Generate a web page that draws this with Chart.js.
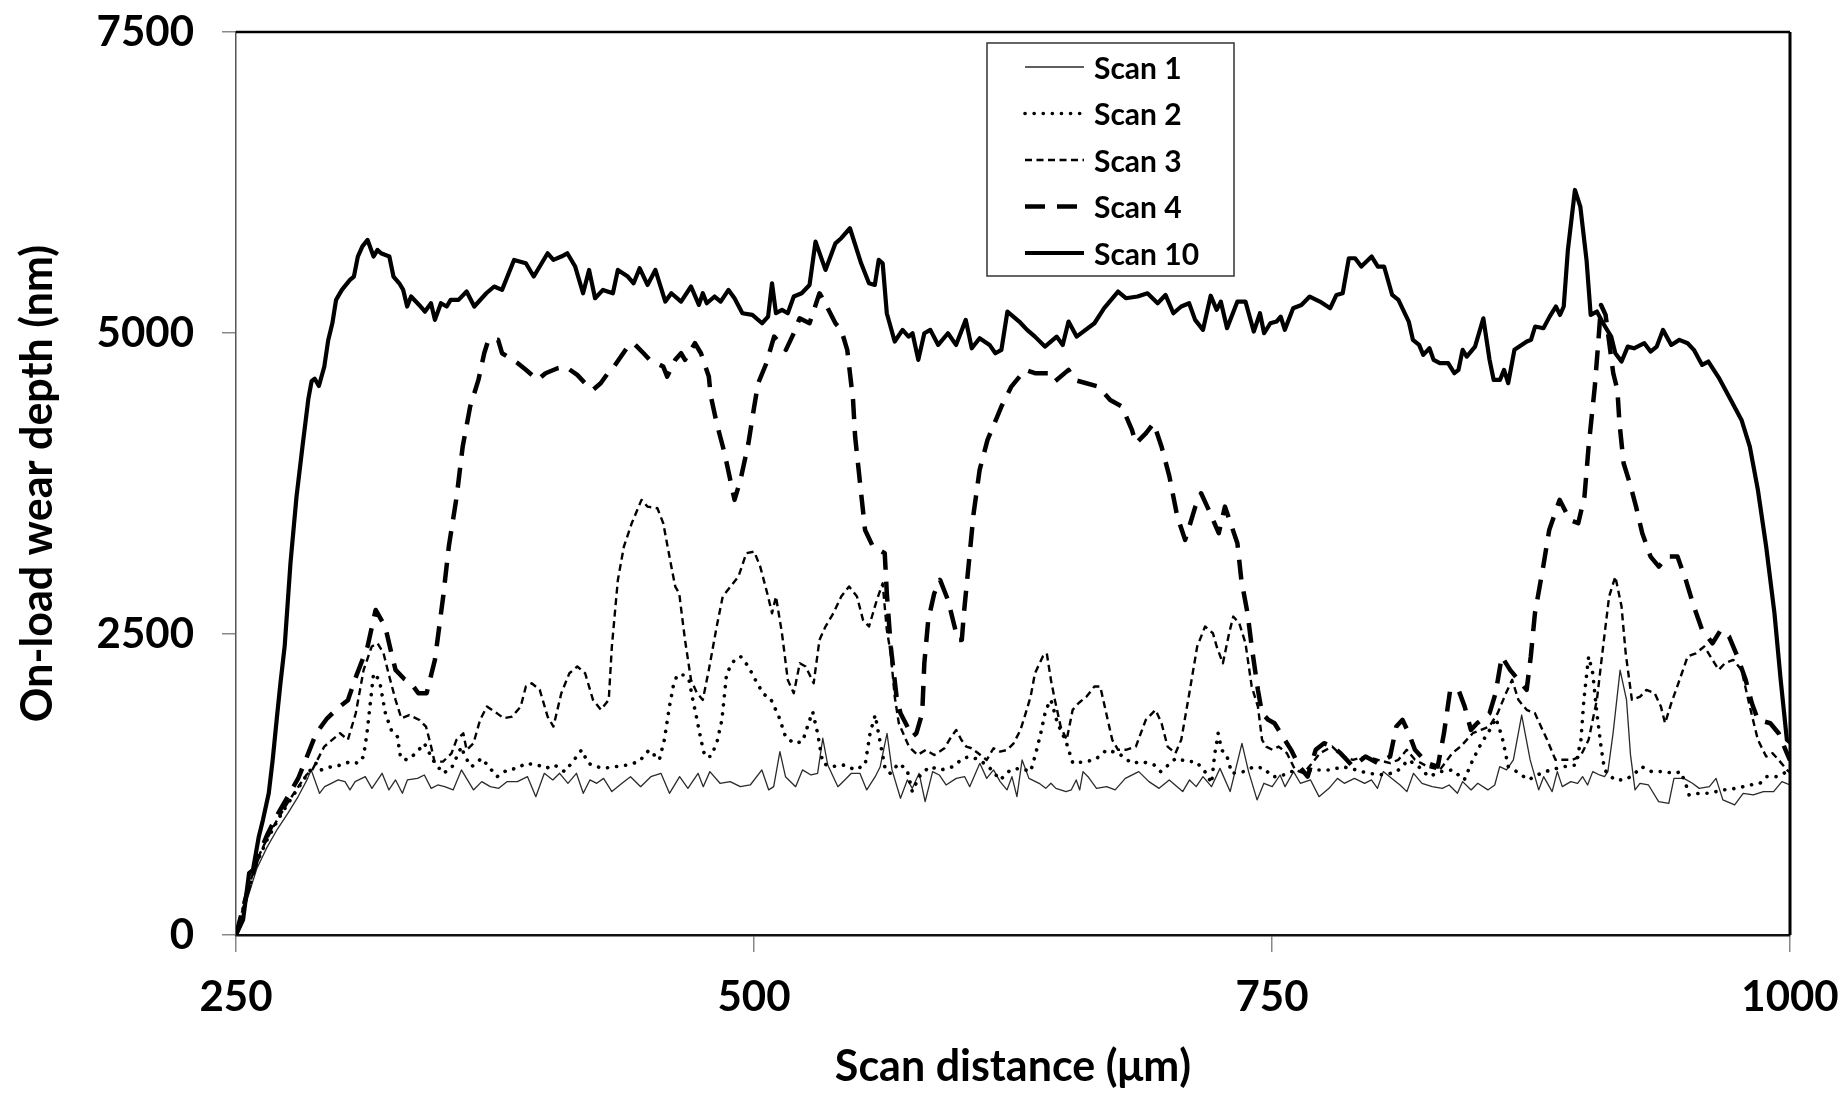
<!DOCTYPE html>
<html>
<head>
<meta charset="utf-8">
<title>On-load wear depth</title>
<script src="https://cdn.jsdelivr.net/npm/chart.js@4.4.1/dist/chart.umd.min.js"></script>
<style>
  html, body { margin: 0; padding: 0; background: #fff; }
  #wrap { width: 1848px; height: 1100px; }
</style>
</head>
<body>
<div id="wrap"><canvas id="wearChart" width="1848" height="1100"></canvas></div>
<script>
// scan distance (µm) and on-load wear depth (nm), one pair of arrays per scan
const scan1X = [250, 253, 256, 260, 265, 270, 275, 280, 284, 286.3, 290.3, 292.8, 296, 299.3, 302.6, 305, 307.5, 312.4, 315.6, 320.5,
  323.8, 327, 330.3, 332.7, 337.6, 340.9, 344.2, 347.4, 350.7, 354.8, 358.8, 364.6, 368.6, 372.7, 376.8, 380.9, 385.8, 390.7, 394.7, 398.8,
  402.9, 406.2, 410.2, 414.3, 417.6, 420.8, 424.1, 427.4, 431.4, 436.3, 440.4, 445.3, 450.2, 455.1, 459.2, 464.1, 468.1, 473, 475.5, 478.7,
  483.6, 488.5, 493.4, 498.2, 503.8, 507.1, 509.5, 512.5, 515.2, 520.1, 523.4, 527.5, 530.7, 533.2, 535.6, 540.5, 543.8, 547, 551.1, 554.4,
  558.5, 560.9, 564.2, 566.6, 570.7, 574, 576.4, 579.7, 582.6, 586.2, 589.4, 592.7, 597.6, 601.7, 604.1, 609, 612.3, 615.6, 618.8, 622.1,
  624.5, 626.9, 629.4, 632.7, 637.6, 640.8, 643.3, 645.7, 650.6, 653.1, 655.5, 657.2, 658.8, 661.2, 665.3, 670.2, 674.3, 679.2, 685.7, 690.6,
  695.5, 700.4, 706.9, 710.2, 713.4, 716.7, 720.8, 724.9, 729.8, 735.5, 738.7, 742.8, 746.1, 750.1, 753.9, 756.3, 760.4, 763.7, 768.6, 772.7,
  777.5, 781.6, 784.9, 789.8, 794.7, 798, 800.9, 803.7, 807.7, 811.8, 815.1, 818.3, 822.4, 827.3, 832.2, 835.5, 839.5, 842, 846.1, 849.3,
  854.2, 857.5, 859.9, 863.2, 866.5, 870.5, 874.6, 878.7, 881.1, 885.2, 887.7, 890.1, 894.2, 897.5, 899.9, 902.3, 904.8, 908.1, 910.5, 912.1,
  914.6, 918, 921.1, 923, 925.2, 927.6, 931.7, 936.6, 941.5, 944, 948.8, 952.9, 956.2, 961.1, 964.3, 967.6, 973.3, 977.4, 982.3, 987.2,
  992.1, 996.1, 1000];
const scan1Y = [0, 150, 330, 550, 730, 880, 1010, 1150, 1280, 1371, 1177, 1232, 1260, 1288, 1274, 1205, 1274, 1315, 1218, 1343,
  1205, 1288, 1177, 1288, 1301, 1329, 1218, 1246, 1232, 1205, 1371, 1205, 1274, 1232, 1218, 1274, 1274, 1315, 1149, 1343,
  1288, 1343, 1260, 1343, 1177, 1288, 1260, 1301, 1191, 1260, 1315, 1232, 1315, 1343, 1177, 1315, 1218, 1343, 1232, 1357,
  1260, 1274, 1232, 1246, 1371, 1205, 1232, 1523, 1315, 1232, 1371, 1329, 1343, 1634, 1412, 1232, 1288, 1343, 1343, 1205,
  1315, 1398, 1675, 1371, 1136, 1288, 1218, 1343, 1108, 1357, 1329, 1246, 1301, 1315, 1232, 1426, 1301, 1371, 1274, 1205,
  1315, 1149, 1454, 1301, 1260, 1218, 1260, 1218, 1191, 1205, 1288, 1205, 1357, 1315, 1218, 1232, 1205, 1301, 1357, 1274,
  1218, 1288, 1191, 1288, 1232, 1315, 1232, 1384, 1191, 1592, 1357, 1122, 1260, 1232, 1329, 1232, 1357, 1260, 1288, 1149,
  1218, 1301, 1260, 1301, 1260, 1288, 1218, 1357, 1301, 1246, 1191, 1343, 1260, 1232, 1218, 1246, 1177, 1274, 1205, 1260,
  1205, 1246, 1398, 1371, 1454, 1827, 1454, 1205, 1315, 1191, 1357, 1232, 1274, 1260, 1315, 1246, 1357, 1329, 1315, 1357,
  1675, 2200, 1952, 1500, 1205, 1260, 1246, 1108, 1094, 1301, 1301, 1260, 1218, 1232, 1301, 1122, 1080, 1177, 1163, 1191,
  1191, 1274, 1246];

const scan2X = [250, 255, 260, 265, 270, 275, 280, 285, 288.7, 291.1, 296, 300.9, 305, 309.1, 311.5, 313.2, 314.8, 316.4, 319.2, 322.1,
  325, 327.9, 329.5, 332.7, 336.8, 340.9, 345, 349.9, 354, 358.8, 360.5, 363.7, 368.6, 376, 380.9, 385.8, 389.8, 395.5, 399.6, 403.7,
  408.6, 411.9, 416.8, 420, 424.1, 427.4, 433.1, 438.8, 444.5, 449.4, 454.3, 456.7, 459.2, 461, 462.9, 465.8, 468.6, 470.5, 472.5, 474.4,
  476.3, 479.1, 482, 484.5, 486.8, 490.6, 493.5, 497.3, 501.1, 504.6, 507.8, 512, 515.2, 519.3, 523.4, 526.6, 528.3, 530.7, 533.2, 537.3,
  543.8, 548.7, 553.6, 556, 558.5, 560.1, 563.4, 565.8, 569.9, 573.9, 576.4, 579.7, 584.6, 590.3, 596, 600.9, 604.1, 609, 613.9, 618.8,
  623.7, 628.6, 633.5, 636, 638.4, 640.8, 643.3, 646.5, 650.6, 653.9, 659.6, 664.5, 670.2, 675.9, 682.4, 687.3, 693.1, 696.3, 703.6, 709.3,
  713.4, 718.3, 720.8, 722.4, 724, 725.7, 728.1, 730.6, 736.3, 741.2, 746.1, 750.1, 753.9, 758.8, 764, 770.2, 778.4, 784.1, 790.6, 796.3,
  804.5, 810.2, 815.9, 820.8, 825.7, 831.4, 837.1, 842.8, 846.9, 851, 855, 858, 861, 864, 868.1, 873.8, 877.9, 884.4, 890.9, 896.6,
  899.1, 900.5, 902.8, 904.8, 906.8, 908.8, 910.5, 915.4, 920.3, 924.4, 928.4, 933.3, 938.3, 944.7, 947.2, 949.6, 951.3, 956.2, 961.1, 967.6,
  974.1, 980.7, 985.5, 988.8, 993.7, 998.6, 1000];
const scan2Y = [0, 320, 600, 790, 950, 1090, 1220, 1350, 1427, 1371, 1398, 1412, 1440, 1426, 1481, 1675, 1924, 2174, 2119, 1842,
  1700, 1647, 1468, 1454, 1509, 1592, 1454, 1343, 1385, 1564, 1481, 1398, 1468, 1315, 1371, 1385, 1426, 1412, 1385, 1412,
  1357, 1426, 1537, 1426, 1398, 1385, 1398, 1412, 1440, 1537, 1454, 1620, 1897, 2064, 2160, 2160, 2119, 1953, 1787, 1621,
  1482, 1482, 1592, 1786, 2174, 2285, 2313, 2230, 2105, 2000, 1970, 1814, 1647, 1592, 1606, 1772, 1855, 1675, 1426, 1398,
  1412, 1371, 1412, 1675, 1827, 1675, 1371, 1343, 1426, 1371, 1191, 1315, 1398, 1371, 1398, 1468, 1481, 1454, 1385, 1288,
  1371, 1385, 1357, 1509, 1675, 1869, 1953, 1758, 1606, 1426, 1440, 1454, 1537, 1509, 1426, 1440, 1412, 1357, 1468, 1440,
  1440, 1343, 1260, 1509, 1675, 1537, 1495, 1343, 1357, 1398, 1385, 1315, 1315, 1357, 1360, 1371, 1371, 1398, 1371, 1343,
  1329, 1357, 1454, 1398, 1315, 1357, 1371, 1288, 1454, 1592, 1700, 1800, 1650, 1400, 1357, 1288, 1329, 1371, 1398, 1412,
  1620, 1950, 2313, 2174, 1842, 1565, 1371, 1288, 1288, 1329, 1398, 1357, 1357, 1343, 1357, 1260, 1163, 1177, 1177, 1205,
  1218, 1246, 1260, 1315, 1315, 1357, 1360];

const scan3X = [250, 255, 260, 265, 270, 275, 280, 284, 286.8, 292.6, 296.4, 300.2, 304, 307.8, 311.6, 315.5, 318.3, 321.2, 324, 327,
  329.8, 333.6, 338.5, 341.7, 344.2, 345.8, 349.9, 354, 356.4, 359.7, 361.3, 364.6, 367.8, 371.1, 376, 379.2, 383.3, 387.4, 389.9, 392.7,
  396.6, 400.4, 403.2, 407, 410.9, 414.7, 418.5, 422.3, 426.1, 429.9, 431.4, 434.3, 437.2, 441, 445.7, 448.6, 453.4, 456.2, 460.1, 462,
  463.9, 466.7, 469.6, 472.5, 475.3, 478.2, 482, 484.9, 488.7, 492.5, 496.3, 500.1, 503, 506.8, 508.7, 510.6, 513.5, 516.3, 519.2, 522.1,
  524.9, 528.8, 531.6, 534.5, 538.3, 542.1, 545.9, 549.7, 552.6, 555.5, 559.3, 562.1, 564.1, 566, 567.9, 569.9, 574.8, 578.9, 582.9, 587,
  591.9, 595.2, 597.6, 600.1, 602.5, 605, 608.2, 612.3, 615.6, 618.8, 622.1, 625.3, 628.6, 631.1, 633.5, 635.6, 639.4, 641.3, 643.3, 645.2,
  648, 650.9, 653.8, 656.6, 660.5, 664.3, 667.1, 670, 672.9, 675.7, 679.5, 684.3, 689.1, 693.8, 696.7, 699.6, 703.4, 706.2, 710.1, 713.9,
  717.7, 721.5, 723.3, 726.3, 729.3, 731.3, 734.2, 737.2, 740.2, 743.2, 745.2, 747.2, 750.2, 753.2, 757.2, 761.2, 765.2, 769, 773.1, 779.1,
  784.1, 789.1, 795.1, 801.1, 807, 811, 815, 819, 825, 831, 837, 841, 846.9, 850.9, 854.9, 858.9, 862.9, 865.9, 868.9, 872.9,
  876.9, 879.8, 882.8, 886.8, 890.8, 894.8, 898.8, 902.8, 906.8, 909.8, 912.7, 915.7, 918.7, 920.7, 923.7, 927.7, 930.7, 934.7, 937.7, 939.7,
  942.7, 946.7, 950.6, 954.6, 958.6, 962.6, 965.6, 968.6, 972.6, 976.6, 980.6, 984.5, 988.5, 991.5, 994.5, 998.5, 1000];
const scan3Y = [0, 330, 620, 800, 960, 1100, 1230, 1330, 1371, 1565, 1621, 1676, 1621, 1842, 2202, 2396, 2423, 2340, 2147, 1953,
  1800, 1827, 1786, 1731, 1564, 1440, 1440, 1509, 1620, 1675, 1537, 1592, 1786, 1897, 1841, 1800, 1814, 1897, 2064, 2091,
  2036, 1814, 1731, 2008, 2174, 2230, 2174, 1953, 1870, 1953, 2396, 2949, 3226, 3420, 3614, 3558, 3544, 3420, 3060, 2894,
  2838, 2451, 2119, 2008, 1953, 2202, 2562, 2811, 2894, 2977, 3171, 3184, 3060, 2811, 2672, 2811, 2506, 2119, 2008, 2257,
  2230, 2091, 2451, 2562, 2672, 2811, 2894, 2811, 2617, 2562, 2783, 2921, 2534, 2340, 1980, 1758, 1564, 1495, 1537, 1495,
  1551, 1647, 1703, 1620, 1564, 1551, 1509, 1454, 1551, 1523, 1537, 1592, 1703, 1841, 1980, 2174, 2313, 2340, 2119, 1953,
  1731, 1621, 1870, 1925, 1980, 2064, 2064, 1842, 1621, 1538, 1538, 1565, 1787, 1870, 1759, 1565, 1510, 1621, 2008, 2396,
  2562, 2506, 2396, 2257, 2506, 2645, 2589, 2423, 2064, 1897, 1621, 1565, 1538, 1565, 1510, 1371, 1344, 1420, 1510, 1565,
  1482, 1455, 1482, 1455, 1427, 1455, 1538, 1455, 1399, 1371, 1510, 1565, 1676, 1704, 1731, 1842, 2008, 2119, 1953, 1870,
  1842, 1731, 1621, 1455, 1455, 1455, 1482, 1621, 1953, 2396, 2811, 2977, 2728, 2340, 1953, 1980, 2036, 2008, 1897, 1759,
  1925, 2119, 2313, 2340, 2396, 2285, 2202, 2257, 2285, 2202, 1897, 1621, 1482, 1510, 1455, 1371, 1350];

const scan4X = [250, 255, 260, 265, 270, 275, 280, 283, 288.7, 294, 300, 304, 308, 313.5, 317.4, 322, 325, 327, 331, 334.5,
  338, 342, 346, 350, 352.7, 356.5, 359.4, 363, 367, 369.8, 371.8, 376.5, 378.4, 386, 389.9, 395.6, 399.4, 405.2, 409, 414.7,
  418.5, 422.3, 426, 429.5, 432.4, 439.1, 441.9, 446.7, 449.6, 456.2, 458.1, 462, 464.8, 466.7, 471.5, 474.4, 478.2, 479.1, 482, 485.8,
  490.6, 493.5, 497.3, 500.1, 502, 506, 509.7, 515.4, 519.2, 522, 526.8, 531.6, 533.5, 539.3, 542.1, 545, 547.8, 548.8, 551.7, 553.6,
  557.4, 563.1, 564.1, 566, 568.8, 570.7, 576.5, 578.4, 581.2, 582.2, 584.1, 587, 589.8, 593.6, 598.4, 600.3, 601.3, 603.2, 606, 608.9,
  612.7, 619.4, 624.2, 630.9, 635.6, 642.3, 645.2, 651.8, 654.7, 660.4, 666.2, 671.9, 677.6, 682.4, 684.3, 689.1, 692.9, 696.7, 700.5, 704.3,
  708.1, 713, 715.8, 719.5, 724.3, 727.3, 733.3, 735.2, 738.2, 740.2, 743.2, 745.2, 748.2, 751.2, 755.2, 759.2, 763.2, 767.2, 771.1, 775.1,
  779.1, 783.1, 789.1, 795.1, 801.1, 807, 810, 813, 816, 819, 825, 830, 833, 836, 840, 843, 846, 849, 855, 857.9,
  860.9, 864.9, 868.9, 872.9, 874.9, 876.9, 880.9, 883.8, 888.8, 893.8, 897.8, 900.8, 902.8, 905.8, 907.8, 908.8, 911, 914.7, 916.7, 917.7,
  919.7, 922.7, 925.7, 928.7, 932.7, 936.7, 940.7, 945.7, 949.7, 953.6, 957.6, 962.6, 966.6, 970.6, 974.6, 978.6, 981.6, 984.5, 990.5, 994.5,
  998.5, 1000];
const scan4Y = [0, 330, 620, 830, 1000, 1150, 1300, 1427, 1676, 1800, 1897, 1950, 2150, 2396, 2700, 2562, 2340, 2202, 2130, 2091,
  2008, 2008, 2285, 2811, 3226, 3641, 4056, 4388, 4610, 4832, 4943, 4943, 4832, 4749, 4694, 4610, 4666, 4707, 4721, 4652,
  4583, 4528, 4583, 4666, 4721, 4887, 4915, 4832, 4777, 4721, 4638, 4777, 4832, 4777, 4915, 4832, 4638, 4480, 4250, 4001,
  3614, 3780, 4084, 4389, 4582, 4750, 4970, 4860, 4998, 5122, 5081, 5330, 5275, 5081, 5026, 4860, 4444, 4140, 3669, 3364,
  3226, 3171, 2838, 2396, 1980, 1842, 1648, 1676, 1842, 2257, 2617, 2838, 2949, 2783, 2451, 2451, 2672, 3005, 3503, 3863,
  4112, 4389, 4555, 4694, 4666, 4666, 4597, 4694, 4610, 4583, 4555, 4444, 4389, 4195, 4084, 4167, 4250, 4056, 3807, 3475,
  3281, 3558, 3669, 3530, 3337, 3558, 3254, 2949, 2672, 2396, 2036, 1842, 1787, 1759, 1648, 1538, 1399, 1316, 1538, 1593,
  1565, 1510, 1399, 1482, 1427, 1482, 1731, 1787, 1676, 1538, 1427, 1399, 1676, 2036, 2036, 1897, 1704, 1759, 1842, 2008,
  2313, 2202, 2119, 2036, 2313, 2672, 3060, 3364, 3614, 3447, 3420, 3641, 4056, 4555, 4998, 5233, 5150, 4666, 4527, 4250,
  3918, 3752, 3558, 3337, 3143, 3060, 3143, 3143, 2949, 2728, 2534, 2423, 2534, 2479, 2313, 2119, 1925, 1787, 1759, 1676,
  1510, 1450];

const scan10X = [250, 253.4, 256.3, 258.2, 261, 263, 265.8, 267.7, 269.7, 271.5, 273.5, 276.3, 279.2, 282.1, 284.9, 286.5, 288, 290, 292.6, 294.5,
  296.5, 298.3, 301.1, 305, 306.9, 308.8, 311, 313.5, 316.4, 318.3, 320, 324, 326, 328.8, 330.7, 332.6, 334.5, 338.4, 341.2, 344.1,
  346, 348.9, 351.7, 353.6, 357.4, 361.3, 365, 370.8, 374.6, 378.4, 384.2, 389.9, 393.7, 400.4, 403.2, 407, 409.9, 413.7, 417.5, 420.4,
  423.3, 427.1, 431.9, 434.3, 439.1, 441.9, 444.8, 448.6, 452.4, 457.2, 460.1, 464.8, 469.6, 473.4, 475.3, 477.2, 481, 483.9, 487.7, 490.6,
  494.4, 499.2, 503.9, 506.8, 508.7, 510.6, 513.5, 516.3, 519.2, 523, 526.8, 529.7, 534.5, 539.3, 542.1, 546.3, 551.7, 555.5, 558.3, 560.2,
  562.1, 564.1, 567.9, 571.7, 574.6, 576.5, 579.3, 582.2, 585.1, 588.9, 593.6, 597.5, 602.2, 605.1, 608.9, 613.7, 616.5, 619.4, 622.3, 628,
  631.8, 635.6, 640.4, 646.1, 649, 651.8, 655.7, 664.3, 669, 675.7, 679.5, 685.1, 689.9, 694.8, 698.6, 702.4, 706.2, 710, 712.9, 716.7,
  720.4, 723.3, 725.3, 728.3, 733.3, 737.2, 741.2, 744.2, 746.2, 749.2, 752.2, 754.2, 756.2, 760.2, 764.2, 768.2, 773.1, 778.1, 781.1, 784.1,
  787.1, 790.1, 793.1, 798.1, 801.1, 804.1, 808, 811, 816, 818, 821, 823, 826, 828, 831, 835, 838, 840, 842, 844,
  848, 852, 855, 857, 860, 862, 864, 867, 873, 875, 877, 881, 884, 887, 889, 890.8, 892.8, 896.2, 898.8, 901.8,
  903.8, 906.8, 909.8, 913.7, 915.7, 918.7, 921.7, 924.7, 929.7, 932.7, 935.7, 938.7, 942.7, 946.6, 950.6, 953.6, 957.6, 960.6, 965.6, 970.6,
  976.6, 980.6, 984.5, 988.5, 992.5, 995.5, 998.5, 1000];
const scan10Y = [0, 125, 513, 540, 817, 956, 1177, 1454, 1800, 2100, 2400, 3090, 3640, 4060, 4450, 4600, 4620, 4560, 4720, 4940,
  5080, 5275, 5358, 5441, 5469, 5635, 5720, 5773, 5635, 5690, 5662, 5635, 5469, 5413, 5358, 5220, 5303, 5233, 5178, 5247,
  5109, 5247, 5220, 5275, 5275, 5344, 5220, 5330, 5386, 5358, 5607, 5579, 5469, 5662, 5607, 5635, 5662, 5552, 5330, 5524,
  5289, 5358, 5330, 5524, 5469, 5413, 5538, 5399, 5524, 5261, 5330, 5261, 5386, 5233, 5330, 5247, 5303, 5261, 5358, 5289,
  5164, 5150, 5081, 5136, 5413, 5164, 5192, 5164, 5303, 5330, 5399, 5759, 5524, 5745, 5787, 5870, 5579, 5413, 5399, 5607,
  5579, 5164, 4929, 5026, 4970, 4998, 4777, 4998, 5026, 4901, 4998, 4901, 5109, 4873, 4957, 4901, 4832, 4860, 5178, 5095,
  5026, 4970, 4887, 4970, 4901, 5095, 4970, 5081, 5206, 5344, 5289, 5303, 5330, 5247, 5316, 5164, 5220, 5247, 5109, 5026,
  5310, 5192, 5261, 5040, 5261, 5261, 5012, 5164, 4998, 5081, 5095, 5136, 5026, 5206, 5233, 5303, 5261, 5206, 5316, 5330,
  5621, 5621, 5552, 5635, 5552, 5552, 5316, 5275, 5095, 4943, 4901, 4818, 4873, 4777, 4749, 4749, 4666, 4694, 4860, 4804,
  4887, 5122, 4777, 4610, 4610, 4694, 4583, 4860, 4929, 4943, 5054, 5040, 5136, 5220, 5150, 5220, 5690, 6188, 6050, 5607,
  5150, 5178, 5081, 4970, 4832, 4763, 4887, 4873, 4915, 4846, 4887, 5026, 4901, 4943, 4915, 4860, 4735, 4763, 4630, 4471,
  4278, 4056, 3697, 3226, 2672, 2119, 1620, 1600];

const scanLabels = ['Scan 1', 'Scan 2', 'Scan 3', 'Scan 4', 'Scan 10'];
const xTicks = [250, 500, 750, 1000];
const yTicks = [0, 2500, 5000, 7500];

const FONT = 'Lato, "Open Sans", sans-serif';

function toPoints(xs, ys) {
  return xs.map((x, i) => ({ x: x, y: ys[i] }));
}

// frame round the plot area: top and right edges (left/bottom are the axis borders)
const plotFrame = {
  id: 'plotFrame',
  afterDatasetsDraw(chart) {
    const { ctx, chartArea: a } = chart;
    ctx.save();
    ctx.strokeStyle = '#000';
    ctx.lineWidth = 2.5;
    ctx.beginPath();
    ctx.moveTo(a.left, a.top);
    ctx.lineTo(a.right, a.top);
    ctx.stroke();
    ctx.lineWidth = 3;
    ctx.beginPath();
    ctx.moveTo(a.right, a.top);
    ctx.lineTo(a.right, a.bottom);
    ctx.stroke();
    ctx.restore();
  }
};

// boxed legend drawn with each dataset's own stroke style
const boxedLegend = {
  id: 'boxedLegend',
  afterDraw(chart) {
    const ctx = chart.ctx;
    const left = 987, top = 43, width = 247, height = 233;
    const rowTop = 67, rowGap = 46.5;
    ctx.save();
    ctx.fillStyle = '#fff';
    ctx.fillRect(left, top, width, height);
    ctx.strokeStyle = '#333';
    ctx.lineWidth = 1.5;
    ctx.strokeRect(left, top, width, height);

    chart.data.datasets.forEach((ds, i) => {
      const y = rowTop + i * rowGap;
      ctx.save();
      ctx.strokeStyle = ds.borderColor;
      ctx.lineWidth = ds.borderWidth;
      ctx.lineCap = ds.borderCapStyle || 'butt';
      ctx.setLineDash(ds.borderDash || []);
      ctx.beginPath();
      ctx.moveTo(1025, y);
      ctx.lineTo(1084, y);
      ctx.stroke();
      ctx.restore();

      ctx.fillStyle = '#000';
      ctx.font = 'bold 30px ' + FONT;
      ctx.textBaseline = 'middle';
      ctx.textAlign = 'left';
      ctx.fillText(ds.label, 1094, y + 2);
    });
    ctx.restore();
  }
};

const ctx = document.getElementById('wearChart').getContext('2d');

new Chart(ctx, {
  type: 'line',
  data: {
    datasets: [
      {
        label: scanLabels[0],
        data: toPoints(scan1X, scan1Y),
        borderColor: '#2a2a2a',
        borderWidth: 1.3,
        order: 5
      },
      {
        label: scanLabels[1],
        data: toPoints(scan2X, scan2Y),
        borderColor: '#000',
        borderWidth: 3.6,
        borderDash: [0.1, 9],
        borderCapStyle: 'round',
        order: 4
      },
      {
        label: scanLabels[2],
        data: toPoints(scan3X, scan3Y),
        borderColor: '#000',
        borderWidth: 2.4,
        borderDash: [7, 4.5],
        order: 3
      },
      {
        label: scanLabels[3],
        data: toPoints(scan4X, scan4Y),
        borderColor: '#000',
        borderWidth: 4.5,
        borderDash: [20, 12],
        order: 2
      },
      {
        label: scanLabels[4],
        data: toPoints(scan10X, scan10Y),
        borderColor: '#000',
        borderWidth: 4.2,
        order: 1
      }
    ]
  },
  options: {
    responsive: false,
    animation: false,
    events: [],
    elements: {
      point: { radius: 0 },
      line: { tension: 0, fill: false, borderJoinStyle: 'round' }
    },
    layout: {
      padding: { top: 32, right: 58, left: 0, bottom: 0 }
    },
    plugins: {
      legend: { display: false },
      tooltip: { enabled: false },
      title: { display: false }
    },
    scales: {
      x: {
        type: 'linear',
        min: 250,
        max: 1000,
        afterBuildTicks: (s) => { s.ticks = xTicks.map(v => ({ value: v })); },
        afterFit: (s) => { s.height = 165; s.paddingLeft = 0; s.paddingRight = 0; },
        border: { display: true, color: '#111', width: 2.5 },
        grid: { drawOnChartArea: false, drawTicks: true, tickLength: 17, color: '#888', lineWidth: 1.5 },
        ticks: {
          color: '#000',
          padding: 20,
          maxRotation: 0,
          callback: (v) => String(v),
          font: { family: FONT, size: 42, weight: 'bold' }
        },
        title: {
          display: true,
          text: 'Scan distance (μm)',
          color: '#000',
          padding: { top: 0, bottom: 7 },
          font: { family: FONT, size: 43, weight: 'bold' }
        }
      },
      y: {
        min: 0,
        max: 7500,
        afterBuildTicks: (s) => { s.ticks = yTicks.map(v => ({ value: v })); },
        afterFit: (s) => { s.width = 236; s.paddingTop = 0; s.paddingBottom = 0; },
        border: { display: true, color: '#555', width: 1.5 },
        grid: { drawOnChartArea: false, drawTicks: true, tickLength: 14, color: '#888', lineWidth: 1.5 },
        ticks: {
          color: '#000',
          padding: 28,
          callback: (v) => String(v),
          font: { family: FONT, size: 42, weight: 'bold' }
        },
        title: {
          display: true,
          text: 'On-load wear depth (nm)',
          color: '#000',
          padding: { top: 12, bottom: 0 },
          font: { family: FONT, size: 43, weight: 'bold' }
        }
      }
    }
  },
  plugins: [plotFrame, boxedLegend]
});
</script>
</body>
</html>
